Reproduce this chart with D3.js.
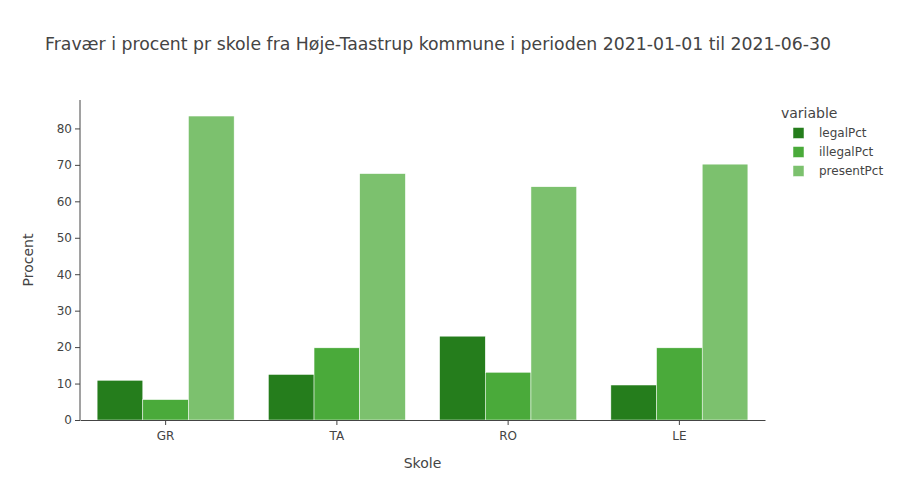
<!DOCTYPE html>
<html>
<head>
<meta charset="utf-8">
<script src="https://cdn.jsdelivr.net/npm/d3@7"></script>
<style>
  body { margin: 0; background: #fff; }
  text { font-family: verdana, "DejaVu Sans", sans-serif; }
</style>
</head>
<body>
<svg id="chart" width="900" height="500"></svg>
<script>
const categories = ["GR", "TA", "RO", "LE"];
const seriesNames = ["legalPct", "illegalPct", "presentPct"];
const legalPct = [10.9, 12.5, 23.0, 9.6];
const illegalPct = [5.6, 19.8, 13.1, 19.8];
const presentPct = [83.4, 67.6, 64.0, 70.2];
const colors = ["#257d1c", "#4aaa3a", "#7cc16e"];
const yTicks = [0, 10, 20, 30, 40, 50, 60, 70, 80];
const titleText = "Fravær i procent pr skole fra Høje-Taastrup kommune i perioden 2021-01-01 til 2021-06-30";

const seriesValues = [legalPct, illegalPct, presentPct];
const FONT = 'verdana, "DejaVu Sans", sans-serif';
const svg = d3.select("#chart");
const pLeft = 80, pRight = 765, pTop = 100, pBottom = 420;

const x0 = d3.scaleBand().domain(categories).range([pLeft, pRight]).paddingInner(0.2).paddingOuter(0.1);
const x1 = d3.scaleBand().domain(seriesNames).range([0, x0.bandwidth()]);
const y = d3.scaleLinear().domain([0, 87.8]).range([pBottom, pTop]);

// Bars
seriesNames.forEach((s, si) => {
  svg.append("g").selectAll("rect")
    .data(categories.map((c, ci) => ({ c, v: seriesValues[si][ci] })))
    .join("rect")
    .attr("x", d => x0(d.c) + x1(s))
    .attr("y", d => y(d.v))
    .attr("width", x1.bandwidth())
    .attr("height", d => y(0) - y(d.v))
    .attr("fill", colors[si])
    .attr("stroke", "#fff")
    .attr("stroke-width", 0.5);
});

// Y axis
const yAxis = svg.append("g")
  .attr("transform", `translate(${pLeft},0)`)
  .call(d3.axisLeft(y).tickValues(yTicks).tickSize(5).tickPadding(3));
yAxis.select(".domain").attr("stroke", "#444").attr("d", `M0,${pBottom}V${pTop}`);
yAxis.selectAll(".tick line").attr("stroke", "#444");
yAxis.selectAll(".tick text").attr("fill", "#444").style("font-size", "12px")
  .style("font-family", FONT);

// X axis
const xAxis = svg.append("g")
  .attr("transform", `translate(0,${pBottom})`)
  .call(d3.axisBottom(x0).tickSize(5).tickPadding(6).tickSizeOuter(0));
xAxis.select(".domain").attr("stroke", "#444");
xAxis.selectAll(".tick line").attr("stroke", "#444");
xAxis.selectAll(".tick text").attr("fill", "#444").style("font-size", "12px")
  .style("font-family", FONT);

// Titles
svg.append("text").attr("x", 45).attr("y", 50).attr("fill", "#444")
  .style("font-size", "17.3px").text(titleText);
svg.append("text").attr("x", (pLeft + pRight) / 2).attr("y", 468).attr("text-anchor", "middle")
  .attr("fill", "#444").style("font-size", "14px").text("Skole");
svg.append("text").attr("transform", `translate(33,${(pTop + pBottom) / 2}) rotate(-90)`)
  .attr("text-anchor", "middle").attr("fill", "#444").style("font-size", "14px").text("Procent");

// Legend
const lg = svg.append("g");
lg.append("text").attr("x", 781).attr("y", 118).attr("fill", "#444")
  .style("font-size", "14px").text("variable");
seriesNames.forEach((s, i) => {
  const yy = 133 + i * 19;
  lg.append("rect").attr("x", 793).attr("y", yy - 5.5).attr("width", 11).attr("height", 11)
    .attr("fill", colors[i]).attr("stroke", "#fff").attr("stroke-width", 0.5);
  lg.append("text").attr("x", 819).attr("y", yy + 4).attr("fill", "#444")
    .style("font-size", "12px").text(s);
});
</script>
</body>
</html>
